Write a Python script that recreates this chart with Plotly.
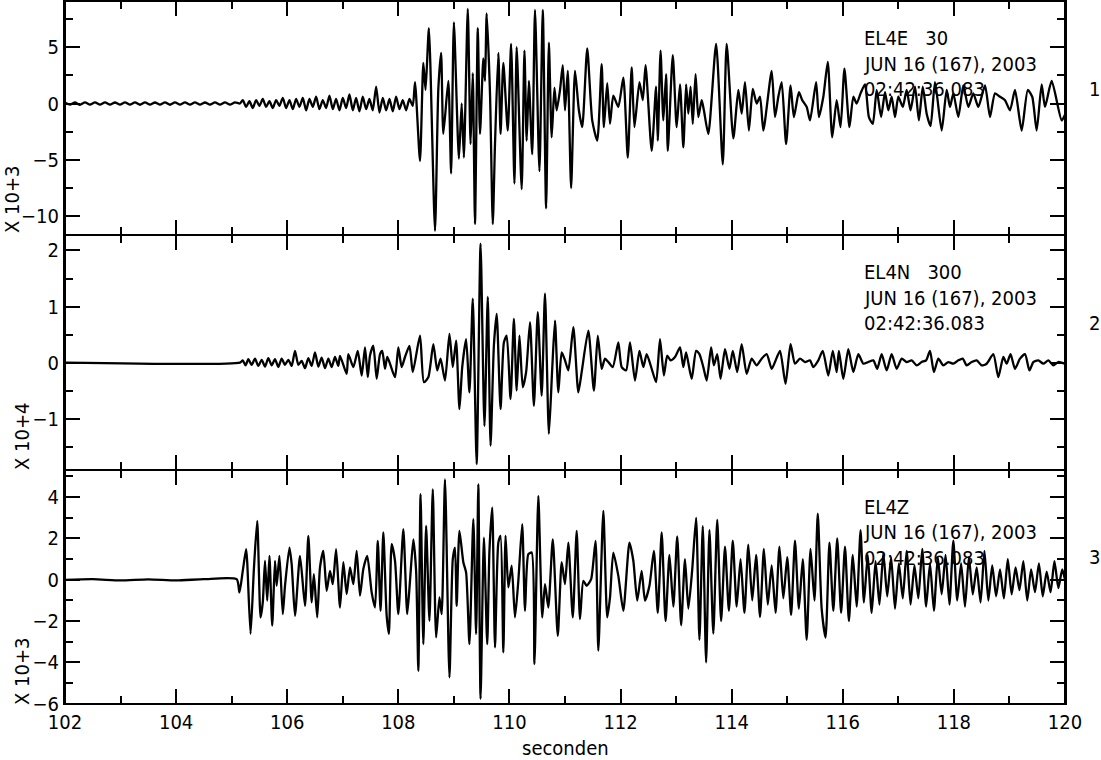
import plotly.graph_objects as go
from plotly.subplots import make_subplots

# ---------------- data (seconds, amplitude) ----------------
# EL4E (x 10+3)
e_t = [102.00, 102.09, 102.18, 102.27, 102.36, 102.45, 102.54, 102.63, 102.72, 102.81, 102.90, 102.99,
       103.08, 103.17, 103.26, 103.35, 103.44, 103.53, 103.62, 103.71, 103.80, 103.89, 103.98, 104.07,
       104.16, 104.25, 104.34, 104.43, 104.52, 104.61, 104.70, 104.79, 104.88, 104.97, 105.06, 105.15,
       105.20, 105.26, 105.32, 105.38, 105.44, 105.50, 105.56, 105.62, 105.68, 105.74, 105.80, 105.86,
       105.92, 105.98, 106.04, 106.10, 106.16, 106.22, 106.28, 106.34, 106.40, 106.46, 106.52, 106.58,
       106.64, 106.70, 106.76, 106.82, 106.88, 106.94, 107.00, 107.06, 107.12, 107.18, 107.24, 107.30,
       107.36, 107.42, 107.48, 107.54, 107.60, 107.66, 107.72, 107.78, 107.84, 107.90, 107.96, 108.02,
       108.08, 108.14, 108.20, 108.26,
       108.30, 108.39, 108.45, 108.49, 108.55, 108.66, 108.72, 108.77, 108.81, 108.90, 108.95, 109.00,
       109.09, 109.14, 109.18, 109.25, 109.30, 109.34, 109.38, 109.43, 109.47, 109.53, 109.56, 109.59,
       109.65, 109.70, 109.74, 109.80, 109.84, 109.89, 109.97, 110.03, 110.09, 110.13, 110.22, 110.27,
       110.31, 110.35, 110.41, 110.46, 110.54, 110.60, 110.66, 110.71, 110.76, 110.81, 110.85, 110.91,
       110.96, 111.00, 111.05, 111.11, 111.18, 111.25, 111.31, 111.40, 111.49, 111.58, 111.66, 111.70,
       111.76, 111.81, 111.87,
       111.96, 112.05, 112.13, 112.20, 112.25, 112.34, 112.40, 112.45, 112.56, 112.64, 112.67, 112.72,
       112.77, 112.82, 112.85, 112.94, 113.01, 113.07, 113.13, 113.18, 113.22, 113.26, 113.30, 113.35,
       113.40, 113.46, 113.50, 113.58, 113.72, 113.84, 113.91, 114.03, 114.12, 114.18, 114.24, 114.31,
       114.38, 114.45, 114.51, 114.57, 114.72, 114.78, 114.84, 114.90, 114.98, 115.06, 115.12, 115.21,
       115.27, 115.35, 115.41, 115.52, 115.57, 115.65, 115.73, 115.81, 115.89, 115.96, 116.03, 116.12,
       116.19, 116.25, 116.32, 116.40, 116.47, 116.54, 116.61, 116.69, 116.76, 116.82, 116.88, 116.94,
       117.00, 117.08, 117.15, 117.22, 117.30, 117.37, 117.44, 117.51, 117.58, 117.66, 117.78, 117.87,
       117.93, 117.99, 118.08, 118.17, 118.26, 118.35, 118.44, 118.56, 118.65, 118.74, 118.83, 118.92,
       119.01, 119.10, 119.22, 119.33, 119.41, 119.49, 119.58, 119.64, 119.76, 119.94, 120.00]
e_v = [0.10, -0.10, 0.09, -0.11, 0.10, -0.09, 0.11, -0.10, 0.10, -0.10, 0.09, -0.10,
       0.11, -0.09, 0.10, -0.11, 0.10, -0.10, 0.09, -0.10, 0.10, -0.11, 0.10, -0.09,
       0.10, -0.10, 0.11, -0.10, 0.09, -0.10, 0.10, -0.10, 0.11, -0.09, 0.10, 0.0,
       0.3, -0.3, 0.2, -0.4, 0.3, -0.2, 0.4, -0.3, 0.2, -0.4, 0.3, -0.2,
       0.5, -0.4, 0.3, -0.5, 0.4, -0.3, 0.5, -0.6, 0.4, -0.3, 0.6, -0.5,
       0.3, -0.4, 0.7, -0.5, 0.4, -0.6, 0.5, -0.4, 0.8, -0.6, 0.5, -0.7,
       0.6, -0.5, 0.4, -0.6, 1.5, -0.8, 0.5, -0.6, 0.4, -0.7, 0.6, -0.5,
       0.3, -0.6, 0.4, -0.2,
       1.9, -5.1, 3.6, 1.2, 6.7, -11.3, 1.3, 4.5, -2.7, 2.0, -6.2, 7.2,
       -4.9, 0.0, -4.8, 8.4, -3.6, 2.7, -10.7, 6.7, -2.7, 4.0, 2.0, 8.0,
       0.9, -10.7, -3.6, 4.5, -2.7, 3.6, -2.4, 5.3, -7.1, 5.0, -7.6, 4.7,
       -3.3, 2.0, -4.5, 8.3, -6.0, 8.3, -9.3, 5.4, -3.0, 1.4, -0.6, 1.2,
       3.4, -0.6, 2.9, -7.5, 2.9, -0.6, -2.1, 4.9, -1.5, -3.3, 3.5, -2.1,
       1.8, -1.8, 0.7,
       -0.3, 2.3, -4.8, 3.2, -2.1, 1.9, 0.3, 3.4, -4.2, 1.5, -3.3, 4.7,
       -1.5, 2.6, -4.2, 4.3, -2.1, 1.7, -3.9, 1.7, -0.9, 1.5, -1.8, 2.6,
       -1.2, 0.3, -0.6, -2.7, 5.3, -5.4, 5.3, -3.1, 1.2, -0.9, 1.9, -2.4,
       1.3, 0.0, 0.6, -2.4, 2.9, -1.2, 0.6, 1.9, -3.6, 1.6, -1.2, 1.0,
       0.3, -0.3, -1.5, 1.9, -1.2, 0.6, 3.7, -3.0, 0.3, -2.1, 3.1, -2.1,
       0.6, 0.0, 0.9, 1.7, -1.2, -1.8, 1.2, -1.2, 1.0, -0.6, 0.6, -1.2,
       0.6, -0.3, 1.2, -0.6, 1.5, -1.5, 1.5, -0.9, -2.0, 1.9, -2.4, 1.2,
       -0.3, 0.9, -1.2, 1.6, -0.3, 0.9, -0.3, 1.6, -1.2, 0.9, 0.6, 0.3,
       -0.6, 1.2, -2.4, 1.2, 0.6, -2.4, 1.7, -0.3, 2.0, -1.5, -1.0]

# EL4N (x 10+4)
n_t = [102.00, 105.15, 105.20, 105.25, 105.30, 105.36, 105.42, 105.48, 105.54, 105.60, 105.66, 105.72,
       105.78, 105.84, 105.90, 105.96, 106.02, 106.08, 106.14, 106.20, 106.26, 106.32, 106.38, 106.44,
       106.50, 106.56, 106.62, 106.68, 106.74, 106.80, 106.86, 106.92, 106.95,
       107.07, 107.10, 107.19, 107.27, 107.34, 107.40, 107.45, 107.49, 107.55, 107.61, 107.67, 107.71,
       107.76, 107.80, 107.85, 107.94, 108.00, 108.06, 108.12, 108.20, 108.26, 108.39, 108.46, 108.54,
       108.63, 108.70, 108.76, 108.84, 108.92, 108.98, 109.04, 109.10, 109.15, 109.22, 109.28, 109.34,
       109.41, 109.48, 109.55, 109.61, 109.66, 109.72, 109.77, 109.84, 109.90, 109.95, 110.02, 110.08,
       110.13, 110.18, 110.24, 110.30, 110.37, 110.44, 110.51, 110.58, 110.64, 110.71, 110.77, 110.82,
       110.88, 110.94, 111.00, 111.06, 111.15, 111.24, 111.30, 111.42, 111.52, 111.59, 111.66, 111.72,
       111.78, 111.86, 111.96, 112.02, 112.10, 112.17, 112.26, 112.34, 112.41, 112.47,
       112.56, 112.64, 112.71, 112.78, 112.84, 112.90, 112.98, 113.07, 113.13, 113.18, 113.28, 113.36,
       113.42, 113.49, 113.55, 113.63, 113.68, 113.74, 113.80, 113.88, 113.96, 114.02, 114.10, 114.18,
       114.27, 114.36, 114.45, 114.54, 114.63, 114.72, 114.78, 114.87, 114.97, 115.06, 115.14, 115.23,
       115.32, 115.41, 115.47, 115.56, 115.64, 115.74, 115.82, 115.89, 115.93, 116.01, 116.10, 116.19,
       116.28, 116.37, 116.46, 116.55, 116.62, 116.70, 116.79, 116.88, 116.97, 117.06, 117.15, 117.24,
       117.33, 117.42, 117.50, 117.57, 117.64, 117.72, 117.81, 117.90, 117.99, 118.08, 118.16, 118.23,
       118.32, 118.41, 118.50, 118.59, 118.71, 118.80, 118.89, 118.95, 119.02, 119.10, 119.19, 119.28,
       119.36, 119.43, 119.52, 119.61, 119.70, 119.79, 119.88, 120.00]
n_v = [0.0, 0.0, 0.04, -0.05, 0.06, -0.04, 0.07, -0.06, 0.05, -0.07, 0.08, -0.05,
       0.06, -0.08, 0.07, -0.04, 0.05, -0.06, 0.21, -0.04, 0.03, -0.10, 0.08, -0.06,
       0.18, -0.07, 0.09, -0.10, 0.07, -0.08, 0.10, -0.06, 0.12,
       -0.20, 0.15, -0.08, 0.21, -0.23, 0.27, -0.26, 0.125, 0.30, -0.29, 0.15, 0.21,
       -0.11, 0.10, -0.02, -0.26, 0.27, -0.08, 0.10, 0.30, -0.17, 0.48, -0.35, -0.26,
       0.33, -0.14, 0.07, -0.32, 0.51, -0.08, 0.39, -0.83, -0.08, 0.42, -0.53, 1.14,
       -1.81, 2.12, -1.13, 1.17, -1.48, 0.30, 0.87, -0.83, 0.36, 0.48, -0.65, 0.78,
       -0.50, 0.48, -0.44, -0.17, 0.72, -0.77, 0.90, -0.59, 1.23, -1.27, -0.11, 0.75,
       -0.53, 0.18, 0.04, -0.14, 0.63, -0.53, -0.17, 0.57, -0.50, 0.48, -0.11, 0.07,
       0.01, -0.08, 0.36, -0.08, -0.14, 0.36, -0.32, 0.21, -0.08, 0.15,
       -0.11, -0.35, 0.42, -0.23, 0.125, 0.04, 0.10, 0.27, -0.08, 0.18, -0.29, 0.21,
       0.15, -0.08, -0.32, 0.27, -0.05, 0.15, -0.29, 0.24, -0.11, 0.21, -0.17, 0.33,
       -0.20, 0.07, -0.05, 0.07, 0.15, -0.11, 0.01, 0.21, -0.38, 0.33, -0.02, 0.07,
       0.01, 0.04, -0.08, 0.04, 0.21, -0.23, 0.21, -0.17, 0.21, -0.29, 0.24, -0.17,
       0.15, -0.02, 0.01, 0.04, -0.11, 0.15, -0.14, 0.15, -0.11, 0.07, 0.01, 0.04,
       -0.05, 0.01, 0.04, 0.21, -0.17, 0.07, -0.05, 0.01, -0.02, 0.04, 0.07, -0.05,
       0.01, 0.04, -0.05, -0.02, 0.15, -0.26, 0.10, -0.02, 0.15, -0.11, 0.07, 0.15,
       -0.14, 0.01, 0.04, -0.02, 0.04, -0.05, 0.01, -0.02]

# EL4Z (x 10+3)
z_t = [102.00, 102.50, 103.00, 103.50, 104.00, 104.50, 105.09,
       105.14, 105.20, 105.26, 105.28, 105.34, 105.40, 105.46, 105.52, 105.56, 105.60, 105.64, 105.68,
       105.73, 105.78, 105.81, 105.86, 105.92, 105.96, 106.04, 106.08, 106.14, 106.23, 106.32, 106.38,
       106.44, 106.48, 106.54, 106.59, 106.65, 106.71, 106.77, 106.82, 106.88, 106.95, 107.01, 107.07,
       107.13, 107.19, 107.25, 107.31, 107.37, 107.44, 107.52, 107.58, 107.63, 107.68, 107.73, 107.79,
       107.83, 107.88, 107.94, 108.00, 108.09, 108.16, 108.21, 108.27, 108.32, 108.36, 108.40, 108.45,
       108.50, 108.56, 108.62, 108.68, 108.74, 108.78, 108.84, 108.92, 108.98, 109.02, 109.05, 109.10,
       109.17, 109.22, 109.28, 109.35, 109.40, 109.44, 109.48, 109.54, 109.60, 109.64, 109.69, 109.74,
       109.80, 109.84, 109.89, 109.93, 109.98, 110.04, 110.10, 110.16, 110.23, 110.28, 110.34, 110.40,
       110.45, 110.52, 110.59, 110.64, 110.70, 110.78, 110.87, 110.94, 111.00, 111.06, 111.14, 111.21,
       111.27, 111.33, 111.39, 111.47, 111.55, 111.60, 111.69, 111.76, 111.81, 111.87, 111.96, 112.05,
       112.16, 112.23, 112.30, 112.38, 112.44, 112.52,
       112.60, 112.67, 112.74, 112.81, 112.88, 112.95, 113.02, 113.09, 113.16,
       113.22, 113.29, 113.36, 113.42, 113.48, 113.54, 113.60, 113.67, 113.74, 113.81,
       113.88, 113.95, 114.02, 114.09, 114.16, 114.23, 114.30, 114.37, 114.44, 114.51,
       114.58, 114.65, 114.72, 114.79, 114.86, 114.93, 115.00, 115.07, 115.14, 115.21,
       115.28, 115.35, 115.42, 115.49, 115.55, 115.62, 115.69, 115.76, 115.83, 115.90,
       115.97, 116.04, 116.11, 116.18, 116.25, 116.32, 116.38, 116.45, 116.52, 116.59,
       116.66, 116.73, 116.80, 116.87, 116.94, 117.01, 117.08, 117.15, 117.22, 117.29,
       117.36, 117.43, 117.50, 117.57, 117.64, 117.71, 117.78, 117.85, 117.92, 117.99,
       118.06, 118.13, 118.20, 118.27, 118.34, 118.41, 118.48, 118.55, 118.62, 118.69,
       118.76, 118.83, 118.90, 118.97, 119.04, 119.11, 119.18, 119.25, 119.32, 119.39,
       119.46, 119.53, 119.60, 119.67, 119.74, 119.81, 119.88, 119.95, 120.00]
z_v = [0.0, 0.03, -0.03, 0.02, -0.03, 0.03, 0.03,
       -0.61, 0.43, 1.48, 0.85, -2.62, 0.52, 2.85, -1.82, -1.09, 0.92, -1.01, 1.16,
       -2.22, 0.92, -0.29, 1.16, -1.66, -0.29, 1.56, 0.76, -1.74, 1.16, -1.26, 2.13,
       -1.09, 0.27, -1.82, 0.60, 1.40, -0.53, 0.43, -0.21, 1.48, -1.34, 0.85, -0.69,
       0.60, -0.21, 1.40, -0.77, 0.52, 1.16, -0.61, -1.34, 1.88, -1.50, 2.29, -1.74,
       -2.62, 1.72, 0.92, -1.66, 2.45, -1.66, -0.05, 1.96, 0.43, -4.40, 4.14, -3.11,
       2.61, -1.98, 4.38, -2.79, -0.85, -1.66, 4.86, -4.72, 1.00, 1.56, -1.26, 2.37,
       0.85, 0.35, -3.11, 2.93, -2.62, 4.62, -5.76, 2.04, -3.11, 1.40, 3.50, -3.27,
       1.80, 2.13, -3.51, 2.13, -0.37, 0.68, -1.82, -0.05, 2.69, -1.50, 1.24, 1.32,
       -4.08, 4.06, -1.82, -0.21, -1.34, 1.96, -2.71, 0.85, -0.21, 1.80, -1.82, 2.37,
       -1.90, -0.05, -0.29, 0.03, 1.88, -3.43, 3.33, -1.82, -0.85, 1.32, 0.19, -1.50,
       1.80, 0.92, -1.01, 0.43, -1.01, -0.29,
       1.4, -1.6, 2.3, -2.0, 1.2, -1.3, 2.1, -2.2, 1.0,
       -1.4, 0.5, 3.0, -2.9, 2.6, -4.0, 2.4, -2.6, 2.9, -2.0,
       1.6, -1.5, 1.9, -1.3, 1.0, -1.6, 1.7, -1.0, 1.2, -1.8,
       1.5, -1.2, 0.7, -1.6, 1.6, -0.9, 1.1, -1.7, 1.9, -1.4,
       1.0, -2.9, 1.5, -1.0, 3.2, -1.4, -2.8, 1.8, -1.5, 2.0,
       -1.6, 1.6, -2.0, 1.2, -1.3, 2.4, -1.1, 1.2, -1.6, 0.9,
       -1.2, 1.3, -0.8, 1.1, -1.4, 0.8, -0.9, 1.4, -1.2, 0.7,
       -0.9, 1.5, -1.3, 0.8, -1.5, 1.1, -0.7, 1.2, -1.2, 1.9,
       -1.0, 0.8, -1.3, 1.1, -0.7, 0.6, -1.1, 1.4, -1.0, 0.7,
       -0.8, 0.5, -0.9, 1.0, -0.7, 0.6, -0.5, 0.9, -1.0, 0.5,
       -0.6, 0.8, -0.8, 0.4, -0.6, 0.9, -0.4, 0.5, 0.0]

station_lines = [["EL4E   30", "JUN 16 (167), 2003", "02:42:36.083"],
                 ["EL4N   300", "JUN 16 (167), 2003", "02:42:36.083"],
                 ["EL4Z", "JUN 16 (167), 2003", "02:42:36.083"]]
scale_labels = ["X 10+3", "X 10+4", "X 10+3"]
trace_numbers = ["1", "2", "3"]
x_label = "seconden"

# ---------------- layout helpers ----------------
W, H = 1101, 760
ML, MR, MT, MB = 65, 36, 1, 56
PW, PH = W - ML - MR, H - MT - MB


def px(xp):
    return (xp - ML) / PW


def py(yp):
    return (H - MB - yp) / PH


FONT = "DejaVu Sans Condensed, Liberation Sans Narrow, Liberation Sans, sans-serif"
FS = 20

fig = make_subplots(rows=3, cols=1, shared_xaxes=True, vertical_spacing=0)

for i, (t, v) in enumerate([(e_t, e_v), (n_t, n_v), (z_t, z_v)]):
    n = min(len(t), len(v))
    fig.add_trace(go.Scatter(x=t[:n], y=v[:n], mode="lines",
                             line=dict(color="#000000", width=2.3, shape="spline", smoothing=0.6),
                             showlegend=False, hoverinfo="skip"),
                  row=i + 1, col=1)

yranges = [[-11.7, 9.1], [-1.91, 2.27], [-6.01, 5.33]]
ydt = [5, 1, 2]
ymin = [2.5, 0.5, 1]

tick_common = dict(ticks="inside", ticklen=15, tickwidth=1.6, tickcolor="#000000",
                   showgrid=False, zeroline=False, automargin=False, mirror="ticks",
                   tickfont=dict(family=FONT, size=FS, color="#000000"))

for i in range(3):
    fig.update_yaxes(range=yranges[i], dtick=ydt[i], tick0=0,
                     showline=True, linecolor="#000000", linewidth=2,
                     minor=dict(dtick=ymin[i], tick0=0, ticks="inside", ticklen=8,
                                tickwidth=1.6, tickcolor="#000000", showgrid=False),
                     row=i + 1, col=1, **tick_common)
    fig.update_xaxes(range=[102, 120], dtick=2, tick0=102,
                     showline=True, linecolor="#000000", linewidth=1,
                     minor=dict(dtick=1, tick0=102, ticks="inside", ticklen=8,
                                tickwidth=1.6, tickcolor="#000000", showgrid=False),
                     showticklabels=(i == 2),
                     row=i + 1, col=1, **tick_common)

annotations = []
panel_tops = [1, 235.3, 469.7]
for i in range(3):
    top = panel_tops[i]
    for j, txt in enumerate(station_lines[i]):
        annotations.append(dict(text=txt, xref="paper", yref="paper",
                                x=px(862), y=py(top + 37 + 25.5 * j),
                                xanchor="left", yanchor="middle", showarrow=False,
                                font=dict(family=FONT, size=FS, color="#000000")))
    annotations.append(dict(text=trace_numbers[i], xref="paper", yref="paper",
                            x=px(1094), y=py(top + 87.5), xanchor="center", yanchor="middle",
                            showarrow=False, font=dict(family=FONT, size=FS, color="#000000")))

label_pos = [(12, 200), (22, 437), (22, 672)]
for i in range(3):
    annotations.append(dict(text=scale_labels[i], xref="paper", yref="paper",
                            x=px(label_pos[i][0]), y=py(label_pos[i][1]),
                            xanchor="center", yanchor="middle", textangle=-90,
                            showarrow=False, font=dict(family=FONT, size=FS, color="#000000")))

annotations.append(dict(text=x_label, xref="paper", yref="paper", x=px(565), y=py(748),
                        xanchor="center", yanchor="middle", showarrow=False,
                        font=dict(family=FONT, size=FS, color="#000000")))

# outer frame
shapes = [dict(type="rect", xref="paper", yref="paper", x0=0, x1=1, y0=0, y1=1,
               line=dict(color="#000000", width=2), fillcolor="rgba(0,0,0,0)", layer="above")]

fig.update_layout(width=W, height=H, margin=dict(l=ML, r=MR, t=MT, b=MB, autoexpand=False),
                  paper_bgcolor="#ffffff", plot_bgcolor="#ffffff",
                  annotations=annotations, shapes=shapes,
                  font=dict(family=FONT, color="#000000"))

fig.write_html("out.html", config={"displayModeBar": False},
               post_script="document.body.style.margin='0';document.body.style.overflow='hidden';")
